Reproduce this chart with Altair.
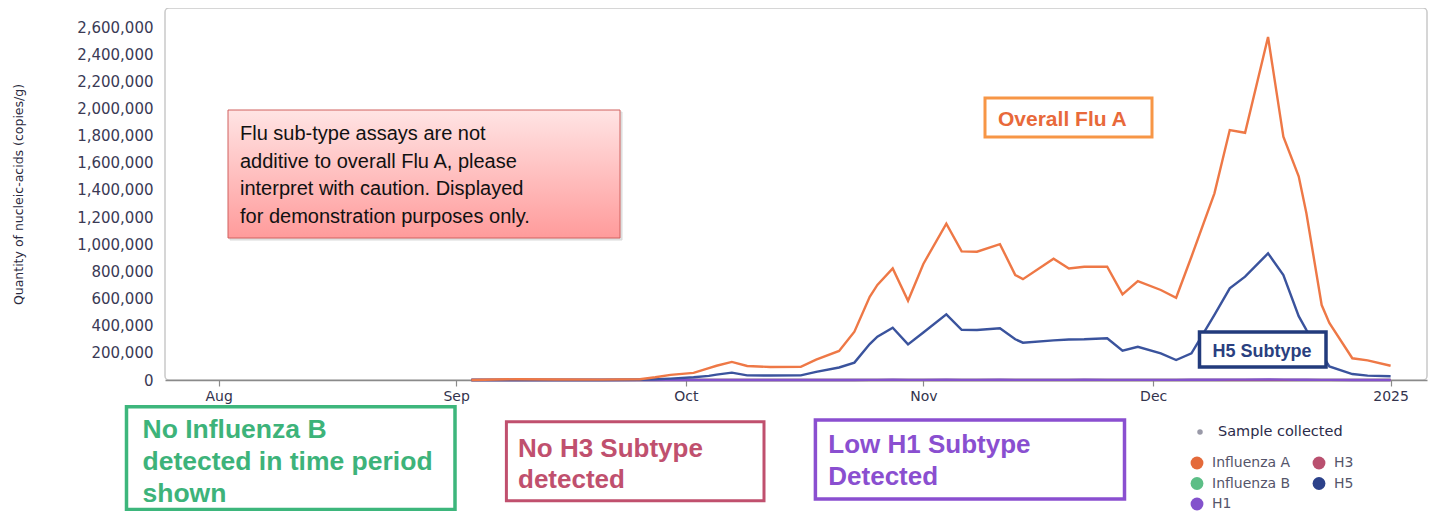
import altair as alt
import pandas as pd

# ---------------- data ----------------
dates = [
    "2024-09-03", "2024-09-09", "2024-09-14", "2024-09-20", "2024-09-25", "2024-09-27", "2024-09-29",
    "2024-10-02", "2024-10-04", "2024-10-05", "2024-10-07", "2024-10-09", "2024-10-12", "2024-10-16",
    "2024-10-18", "2024-10-21", "2024-10-23", "2024-10-25", "2024-10-26", "2024-10-28", "2024-10-30",
    "2024-11-01", "2024-11-04", "2024-11-06", "2024-11-08", "2024-11-11", "2024-11-13", "2024-11-14",
    "2024-11-18", "2024-11-20", "2024-11-22", "2024-11-25", "2024-11-27", "2024-11-29",
    "2024-12-02", "2024-12-04", "2024-12-06", "2024-12-09", "2024-12-11", "2024-12-13", "2024-12-16",
    "2024-12-18", "2024-12-20", "2024-12-21", "2024-12-23", "2024-12-24", "2024-12-27", "2024-12-29",
    "2025-01-01",
]
influenza_a = [
    0, 6000, 4000, 3000, 6000, 20000, 38000,
    52000, 88000, 105000, 133000, 103000, 96000, 97000,
    150000, 214000, 356000, 613000, 700000, 822000, 584000,
    855000, 1152000, 947000, 945000, 1001000, 773000, 743000,
    893000, 821000, 834000, 834000, 631000, 729000,
    663000, 606000, 908000, 1375000, 1841000, 1821000, 2526000,
    1792000, 1500000, 1230000, 552000, 420000, 160000, 145000,
    105000,
]
h5 = [
    0, 0, 0, 0, 2000, 5000, 10000,
    20000, 30000, 40000, 54000, 34000, 33000, 34000,
    60000, 92000, 128000, 265000, 319000, 385000, 262000,
    350000, 483000, 370000, 368000, 381000, 300000, 275000,
    292000, 298000, 300000, 307000, 216000, 245000,
    196000, 147000, 196000, 480000, 675000, 761000, 933000,
    773000, 470000, 370000, 190000, 100000, 44000, 32000,
    28000,
]
h1 = [
    0, 0, 0, 0, 0, 0, 0,
    0, 0, 0, 0, 0, 0, 0,
    0, 0, 0, 1000, 1000, 2000, 1000,
    1000, 2000, 1000, 1000, 2000, 1000, 1000,
    1000, 1000, 2000, 1000, 1000, 1000,
    1000, 1000, 2000, 2000, 3000, 3000, 4000,
    3000, 2000, 2000, 1000, 1000, 0, 0,
    0,
]
h3 = [
    0, 0, 0, 0, 0, 0, 0,
    0, 0, 0, 0, 0, 0, 0,
    0, 0, 0, 0, 0, 0, 0,
    0, 0, 0, 0, 0, 0, 0,
    0, 0, 0, 0, 0, 0,
    0, 0, 0, 0, 0, 0, 0,
    0, 0, 0, 0, 0, 0, 0,
    0,
]
influenza_b = [
    0, 0, 0, 0, 0, 0, 0,
    0, 0, 0, 0, 0, 0, 0,
    0, 0, 0, 0, 0, 0, 0,
    0, 0, 0, 0, 0, 0, 0,
    0, 0, 0, 0, 0, 0,
    0, 0, 0, 0, 0, 0, 0,
    0, 0, 0, 0, 0, 0, 0,
    0,
]

# legend entries listed column by column (Vega fills legend columns top-down)
legend_order = ["Influenza A", "Influenza B", "H1", "H3", "H5"]
legend_colors = ["#E46A3A", "#5CBE86", "#8352CC", "#B9506F", "#2C418A"]
line_colors = ["#EE7846", "#5CBE86", "#8352CC", "#B9506F", "#3A539D"]
y_ticks = [0, 200000, 400000, 600000, 800000, 1000000, 1200000, 1400000,
           1600000, 1800000, 2000000, 2200000, 2400000, 2600000]

draw_order = [("Influenza B", influenza_b), ("H3", h3), ("H1", h1), ("H5", h5), ("Influenza A", influenza_a)]
rows = []
for name, vals in draw_order:
    for d, v in zip(dates, vals):
        rows.append({"date": d, "value": v, "series": name, "legend_series": name})
df = pd.DataFrame(rows)

x_enc = alt.X(
    "date:T",
    title=None,
    scale=alt.Scale(
        type="utc",
        domain=[alt.DateTime(year=2024, month=7, date=25, utc=True),
                alt.DateTime(year=2025, month=1, date=5, hours=18, utc=True)],
        nice=False,
    ),
    axis=alt.Axis(
        tickCount="month", format="%b", grid=False, domainColor="#8a8a8a", domainWidth=1.5,
        tickColor="#8a8a8a", tickSize=6, tickWidth=1.2, labelPadding=3,
        labelExpr="utcmonth(datum.value) == 0 ? utcFormat(datum.value, '%Y') : datum.label",
        labelFont="DejaVu Sans", labelFontSize=14, labelColor="#33334d",
    ),
)
y_enc = alt.Y(
    "value:Q",
    title="Quantity of nucleic-acids (copies/g)",
    scale=alt.Scale(domain=[0, 2740000], nice=False),
    axis=alt.Axis(
        values=y_ticks, format=",.0f", grid=False, ticks=False, domain=False,
        labelPadding=12, labelFont="DejaVu Sans", labelFontSize=15, labelColor="#3a3a55",
        titleFont="DejaVu Sans", titleFontSize=12.5, titleFontWeight="normal",
        titleColor="#2a2a40", titleX=-147, titleY=186, titleAngle=-90,
        titleAlign="center", titleBaseline="middle",
    ),
)

# invisible points that carry the filled-circle legend
legend_pts = alt.Chart(df).mark_circle(opacity=0, size=1).encode(
    x=x_enc,
    y=y_enc,
    fill=alt.Fill(
        "legend_series:N",
        sort=legend_order,
        scale=alt.Scale(domain=legend_order, range=legend_colors),
        legend=alt.Legend(
            title=None, orient="none", legendX=1025, legendY=448, columns=2,
            symbolType="circle", symbolSize=165, symbolOpacity=1, symbolStrokeWidth=0,
            rowPadding=6.5, columnPadding=21, labelOffset=8, padding=0,
            labelFont="DejaVu Sans", labelFontSize=14, labelColor="#55556a",
        ),
    ),
)

# ---------------- main lines ----------------
lines = alt.Chart(df).mark_line(strokeWidth=2.4, interpolate="linear").encode(
    x=x_enc,
    y=y_enc,
    color=alt.Color("series:N", scale=alt.Scale(domain=legend_order, range=line_colors), legend=None),
    detail="series:N",
)

one = alt.Data(values=[{}])


def box(x1, y1, x2, y2, stroke, sw, fill="white"):
    return alt.Chart(one).mark_rect(fill=fill, stroke=stroke, strokeWidth=sw).encode(
        x=alt.value(x1), x2=alt.value(x2), y=alt.value(y1), y2=alt.value(y2)
    )


def label(x, y, lines_, color, size, weight, line_height, font="Liberation Sans"):
    return alt.Chart(one).mark_text(
        text=lines_, align="left", baseline="alphabetic", font=font, fontSize=size,
        fontWeight=weight, color=color, lineHeight=line_height,
    ).encode(x=alt.value(x), y=alt.value(y))


pink_grad = alt.Gradient(
    gradient="linear", x1=0, x2=0, y1=0, y2=1,
    stops=[alt.GradientStop(offset=0, color="#FFE4E4"), alt.GradientStop(offset=1, color="#FF9B9B")],
)

annotations = [
    # caution box
    box(65, 104, 457, 232, "#DADADA", 1, fill="#E2E2E2"),
    box(63, 102, 455, 230, "#D0605F", 1, fill=pink_grad),
    label(75, 132, ["Flu sub-type assays are not", "additive to overall Flu A, please",
                    "interpret with caution. Displayed", "for demonstration purposes only."],
          "#111111", 20, "normal", 27.7),
    # Overall Flu A
    box(820, 90, 987, 129, "#F79646", 3),
    label(833, 117.5, ["Overall Flu A"], "#E8693A", 21, "bold", 24),
    # H5 subtype
    box(1034.5, 324, 1161, 359, "#223B7C", 3.5),
    label(1047.5, 348.5, ["H5 Subtype"], "#2A3F80", 18, "bold", 20),
    # bottom annotation boxes
    box(-38.5, 398.7, 290, 501.5, "#3DB67C", 3.5),
    label(-22.5, 430.3, ["No Influenza B", "detected in time period", "shown"], "#3DB37A", 26.5, "bold", 32),
    box(341.4, 413.7, 599, 492.7, "#C0506E", 3),
    label(353, 448.5, ["No H3 Subtype", "detected"], "#C0506E", 26, "bold", 31),
    box(650.4, 412, 959.5, 491, "#8A4FD0", 3.5),
    label(663.3, 445.3, ["Low H1 Subtype", "Detected"], "#8A4FD0", 26, "bold", 31.7),
    # sample collected legend
    alt.Chart(one).mark_circle(size=30, color="#9A9AA8", opacity=1).encode(
        x=alt.value(1035), y=alt.value(424)),
    alt.Chart(one).mark_text(text="Sample collected", align="left", baseline="middle",
                             font="DejaVu Sans", fontSize=14.5, color="#2B2B4A").encode(
        x=alt.value(1053), y=alt.value(424)),
]

chart = alt.layer(legend_pts, lines, *annotations).properties(
    width=1262, height=372,
    autosize=alt.AutoSizeParams(type="none"),
    padding={"left": 157, "top": 0, "right": 5, "bottom": 131},
).configure_view(
    stroke="#C9C9C9", strokeWidth=1.5, cornerRadius=4
)

chart.save("out.html", embed_options={"renderer": "svg", "actions": False})
